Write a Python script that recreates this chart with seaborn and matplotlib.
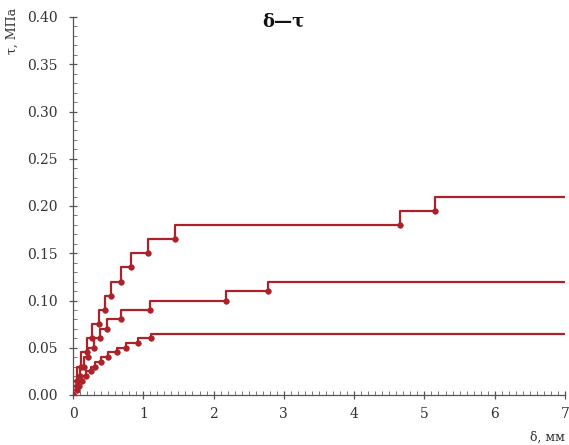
import matplotlib
matplotlib.use("Agg")
import matplotlib.pyplot as plt
from matplotlib.ticker import MultipleLocator, FormatStrFormatter
import numpy as np
import pandas as pd
import seaborn as sns

# Slip (mm) and shear stress (MPa) for three loading histories
top_delta = [0, 0.05, 0.12, 0.20, 0.27, 0.37, 0.46, 0.54, 0.68, 0.83, 1.07, 1.45, 4.65, 5.15, 7.0]
top_tau = [0, 0.015, 0.03, 0.045, 0.06, 0.075, 0.09, 0.105, 0.12, 0.135, 0.15, 0.165, 0.18, 0.195, 0.21]

mid_delta = [0, 0.05, 0.10, 0.16, 0.22, 0.30, 0.38, 0.48, 0.68, 1.10, 2.17, 2.78, 7.0]
mid_tau = [0, 0.01, 0.02, 0.03, 0.04, 0.05, 0.06, 0.07, 0.08, 0.09, 0.10, 0.11, 0.12]

low_delta = [0, 0.05, 0.09, 0.13, 0.19, 0.25, 0.31, 0.40, 0.50, 0.62, 0.75, 0.93, 1.11, 7.0]
low_tau = [0, 0.005, 0.01, 0.015, 0.02, 0.025, 0.03, 0.035, 0.04, 0.045, 0.05, 0.055, 0.06, 0.065]

x_ticks = [0, 1, 2, 3, 4, 5, 6, 7]
y_ticks = [0.00, 0.05, 0.10, 0.15, 0.20, 0.25, 0.30, 0.35, 0.40]

sns.set_style("ticks")
plt.rcParams["font.family"] = ["DejaVu Serif"]

color = "#ad2228"

fig = plt.figure(figsize=(5.69, 4.45), dpi=100)
ax = fig.add_axes([73 / 569, 1 - 395 / 445, (565 - 73) / 569, (395 - 17) / 445])

series = [(top_delta, top_tau), (mid_delta, mid_tau), (low_delta, low_tau)]
for d, t in series:
    df = pd.DataFrame({"delta": d, "tau": t})
    sns.lineplot(data=df, x="delta", y="tau", ax=ax, color=color, lw=1.6,
                 drawstyle="steps-pre", estimator=None, sort=False)
    # markers at the recorded points (the final plateau end is unmarked)
    sns.scatterplot(data=df.iloc[:-1], x="delta", y="tau", ax=ax, color=color,
                    s=16, edgecolor=color, linewidth=0.5, zorder=3)

ax.set_xlim(0, 7)
ax.set_ylim(0, 0.40)
ax.set_xticks(x_ticks)
ax.set_yticks(y_ticks)
ax.yaxis.set_major_formatter(FormatStrFormatter("%.2f"))
ax.xaxis.set_minor_locator(MultipleLocator(0.1))
ax.yaxis.set_minor_locator(MultipleLocator(0.01))
ax.tick_params(which="major", direction="inout", length=6, width=0.9,
               colors="#555555", labelcolor="#333333", labelsize=10)
ax.tick_params(which="minor", direction="in", length=3, width=0.7, colors="#777777")
ax.tick_params(axis="x", which="major", pad=6)
ax.tick_params(axis="y", which="major", pad=8)
for s in ("top", "right"):
    ax.spines[s].set_visible(False)
for s in ("left", "bottom"):
    ax.spines[s].set_color("#555555")
    ax.spines[s].set_linewidth(0.9)

ax.set_xlabel("")
ax.set_ylabel("")
fig.text(12 / 569, 1 - 8 / 445, "τ, МПа", rotation=90, ha="center", va="top",
         fontsize=9, color="#333333")
fig.text(565 / 569, 1 - 437 / 445, "δ, мм", ha="right", va="center",
         fontsize=9, color="#333333")
fig.text(283 / 569, 1 - 22 / 445, "δ—τ", ha="center", va="center",
         fontsize=13, fontweight="bold", color="#111111")

fig.savefig("out.png", dpi=100)
